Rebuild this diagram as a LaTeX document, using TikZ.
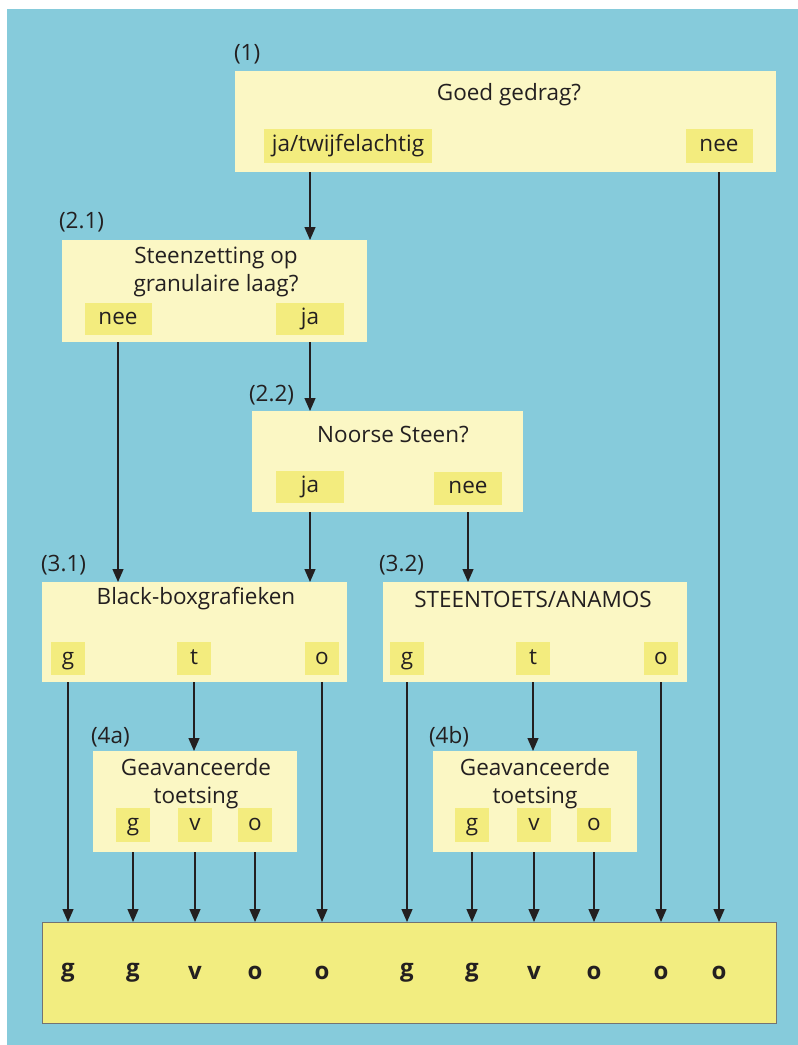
\documentclass[tikz,border=0pt]{standalone}
\usepackage{fontspec}
\setmainfont{Open Sans}
\usetikzlibrary{arrows.meta,calc}
\definecolor{bgblue}{HTML}{86CBDB}
\definecolor{paleyel}{HTML}{FBF7C4}
\definecolor{tagyel}{HTML}{F3EC7E}
\definecolor{botyel}{HTML}{F2ED80}
\definecolor{ink}{HTML}{231F20}
\begin{document}
\begin{tikzpicture}[x=1pt,y=-1pt,
  every node/.style={inner sep=0pt,outer sep=0pt,text=ink,font=\fontsize{22.5}{28}\selectfont},
  qbox/.style={fill=paleyel,draw=none},
  tagbox/.style={fill=tagyel,draw=none,text height=16pt,text depth=5pt},
  title/.style={align=center},
  numlab/.style={anchor=west},
  reslab/.style={font=\fontsize{24}{28}\selectfont\bfseries},
  arr/.style={draw=ink,line width=1.3pt,-{Triangle[width=11pt,length=13pt]}}]
\useasboundingbox (0,0) rectangle (798,1045);
\fill[white] (0,0) rectangle (798,1045);
\fill[bgblue] (7,9) rectangle (798,1045);

% boxes
\node[qbox,minimum width=541pt,minimum height=101pt] (b1) at (505.5,121.5) {};
\node[qbox,minimum width=305pt,minimum height=102pt] (b21) at (214.5,291) {};
\node[qbox,minimum width=271pt,minimum height=101pt] (b22) at (387.5,461.5) {};
\node[qbox,minimum width=305pt,minimum height=100pt] (b31) at (194.5,632) {};
\node[qbox,minimum width=304pt,minimum height=100pt] (b32) at (535,632) {};
\node[qbox,minimum width=204pt,minimum height=101pt] (b4a) at (195,801.5) {};
\node[qbox,minimum width=204pt,minimum height=101pt] (b4b) at (535,801.5) {};
\node[fill=botyel,draw=black!55,line width=1pt,minimum width=734pt,minimum height=101pt] (bot) at (409,972.5) {};

% number labels
\node[numlab] (n1) at (234,54) {(1)};
\node[numlab] (n21) at (59,222) {(2.1)};
\node[numlab] (n22) at (249,395) {(2.2)};
\node[numlab] (n31) at (41,565) {(3.1)};
\node[numlab] (n32) at (379,565) {(3.2)};
\node[numlab] (n4a) at (91,737) {(4a)};
\node[numlab] (n4b) at (429,737) {(4b)};

% titles
\node[title] (q1) at (509,95) {Goed gedrag?};
\node[title] (q21) at (216,272) {Steenzetting op\\granulaire laag?};
\node[title] (q22) at (393,435) {Noorse Steen?};
\node[title] (q31) at (196,599) {Black-boxgrafieken};
\node[title] (q32) at (533,599) {STEENTOETS/ANAMOS};
\node[title] (q4a) at (196,784) {Geavanceerde\\toetsing};
\node[title] (q4b) at (535,784) {Geavanceerde\\toetsing};

% tags
\node[tagbox,minimum width=168pt,minimum height=34pt] (t1a) at (348,146) {ja/twijfelachtig};
\node[tagbox,minimum width=67pt,minimum height=34pt] (t1b) at (719,146) {nee};
\node[tagbox,minimum width=67pt,minimum height=32pt] (t21a) at (118,319) {nee};
\node[tagbox,minimum width=68pt,minimum height=32pt] (t21b) at (310,319) {ja};
\node[tagbox,minimum width=68pt,minimum height=32pt] (t22a) at (310,487) {ja};
\node[tagbox,minimum width=68pt,minimum height=33pt] (t22b) at (468,488) {nee};
\node[tagbox,minimum width=34pt,minimum height=33pt] (t31g) at (68,658.5) {g};
\node[tagbox,minimum width=34pt,minimum height=33pt] (t31t) at (194,658.5) {t};
\node[tagbox,minimum width=34pt,minimum height=33pt] (t31o) at (322,658.5) {o};
\node[tagbox,minimum width=34pt,minimum height=33pt] (t32g) at (407,658.5) {g};
\node[tagbox,minimum width=34pt,minimum height=33pt] (t32t) at (533,658.5) {t};
\node[tagbox,minimum width=34pt,minimum height=33pt] (t32o) at (661,658.5) {o};
\node[tagbox,minimum width=34pt,minimum height=34pt] (t4ag) at (133,825) {g};
\node[tagbox,minimum width=34pt,minimum height=34pt] (t4av) at (195,825) {v};
\node[tagbox,minimum width=34pt,minimum height=34pt] (t4ao) at (255,825) {o};
\node[tagbox,minimum width=34pt,minimum height=34pt] (t4bg) at (472,825) {g};
\node[tagbox,minimum width=34pt,minimum height=34pt] (t4bv) at (534,825) {v};
\node[tagbox,minimum width=34pt,minimum height=34pt] (t4bo) at (594,825) {o};

% results
\node[reslab] (r1) at (t31g |- bot) {g};
\node[reslab] (r2) at (t4ag |- bot) {g};
\node[reslab] (r3) at (t4av |- bot) {v};
\node[reslab] (r4) at (t4ao |- bot) {o};
\node[reslab] (r5) at (t31o |- bot) {o};
\node[reslab] (r6) at (t32g |- bot) {g};
\node[reslab] (r7) at (t4bg |- bot) {g};
\node[reslab] (r8) at (t4bv |- bot) {v};
\node[reslab] (r9) at (t4bo |- bot) {o};
\node[reslab] (r10) at (t32o |- bot) {o};
\node[reslab] (r11) at (t1b |- bot) {o};

% connectors
\coordinate (c1) at (310,0);
\draw[arr] (c1 |- b1.south) -- (c1 |- b21.north);
\draw[arr] (t1b |- b1.south) -- (t1b |- bot.north);
\draw[arr] (t21a |- b21.south) -- (t21a |- b31.north);
\draw[arr] (t21b |- b21.south) -- (t21b |- b22.north);
\draw[arr] (t22a |- b22.south) -- (t22a |- b31.north);
\draw[arr] (t22b |- b22.south) -- (t22b |- b32.north);
\draw[arr] (t31g |- b31.south) -- (t31g |- bot.north);
\draw[arr] (t31t |- b31.south) -- (t31t |- b4a.north);
\draw[arr] (t31o |- b31.south) -- (t31o |- bot.north);
\draw[arr] (t32g |- b32.south) -- (t32g |- bot.north);
\draw[arr] (t32t |- b32.south) -- (t32t |- b4b.north);
\draw[arr] (t32o |- b32.south) -- (t32o |- bot.north);
\draw[arr] (t4ag |- b4a.south) -- (t4ag |- bot.north);
\draw[arr] (t4av |- b4a.south) -- (t4av |- bot.north);
\draw[arr] (t4ao |- b4a.south) -- (t4ao |- bot.north);
\draw[arr] (t4bg |- b4b.south) -- (t4bg |- bot.north);
\draw[arr] (t4bv |- b4b.south) -- (t4bv |- bot.north);
\draw[arr] (t4bo |- b4b.south) -- (t4bo |- bot.north);
\end{tikzpicture}
\end{document}
